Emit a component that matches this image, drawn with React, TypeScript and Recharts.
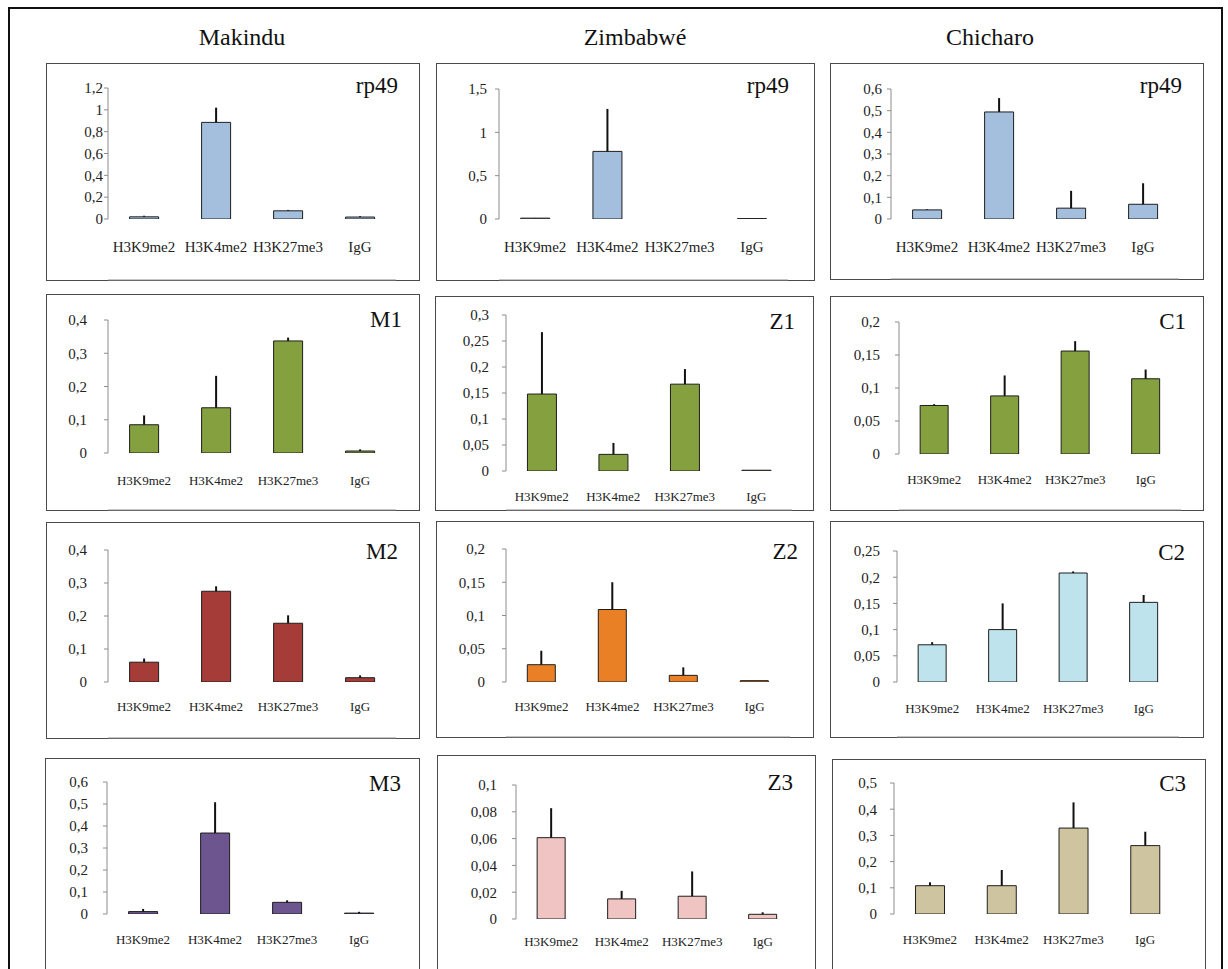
import React from "react";
import { BarChart, Bar, XAxis, YAxis, ErrorBar } from "recharts";

const serif = '"Liberation Serif", "Times New Roman", serif';

const categories = ["H3K9me2", "H3K4me2", "H3K27me3", "IgG"];
const columnTitles = ["Makindu", "Zimbabwé", "Chicharo"];

// bar heights and upper error per panel
const makinduRp49 = [0.02, 0.885, 0.075, 0.018];
const makinduRp49Err = [0.01, 0.135, 0.008, 0.008];
const zimbabweRp49 = [0.01, 0.78, 0.0, 0.005];
const zimbabweRp49Err = [0.002, 0.49, 0, 0.002];
const chicharoRp49 = [0.042, 0.494, 0.05, 0.068];
const chicharoRp49Err = [0.003, 0.064, 0.08, 0.097];

const m1 = [0.085, 0.136, 0.337, 0.006];
const m1Err = [0.028, 0.096, 0.01, 0.005];
const z1 = [0.148, 0.032, 0.167, 0.0015];
const z1Err = [0.119, 0.022, 0.029, 0];
const c1 = [0.0735, 0.088, 0.156, 0.114];
const c1Err = [0.002, 0.031, 0.015, 0.014];

const m2 = [0.06, 0.275, 0.178, 0.013];
const m2Err = [0.011, 0.015, 0.024, 0.007];
const z2 = [0.026, 0.109, 0.01, 0.002];
const z2Err = [0.021, 0.041, 0.012, 0];
const c2 = [0.071, 0.1, 0.208, 0.152];
const c2Err = [0.005, 0.05, 0.003, 0.014];

const m3 = [0.011, 0.368, 0.053, 0.004];
const m3Err = [0.012, 0.14, 0.009, 0.006];
const z3 = [0.0607, 0.015, 0.017, 0.0035];
const z3Err = [0.022, 0.006, 0.0185, 0.0015];
const c3 = [0.108, 0.108, 0.328, 0.261];
const c3Err = [0.013, 0.06, 0.098, 0.053];

// y tick labels
const ticks12 = [0, 0.2, 0.4, 0.6, 0.8, 1, 1.2];
const ticks15 = [0, 0.5, 1, 1.5];
const ticks06 = [0, 0.1, 0.2, 0.3, 0.4, 0.5, 0.6];
const ticks04 = [0, 0.1, 0.2, 0.3, 0.4];
const ticks03 = [0, 0.05, 0.1, 0.15, 0.2, 0.25, 0.3];
const ticks02 = [0, 0.05, 0.1, 0.15, 0.2];
const ticks025 = [0, 0.05, 0.1, 0.15, 0.2, 0.25];
const ticks01 = [0, 0.02, 0.04, 0.06, 0.08, 0.1];
const ticks05 = [0, 0.1, 0.2, 0.3, 0.4, 0.5];

const panels = [
  { tag: "rp49", values: makinduRp49, errors: makinduRp49Err, ticks: ticks12, fill: "#a4bfdd", cat: 15,
    box: { x: 46, y: 63, w: 374, h: 218, axisX: 108, right: 396, top: 88, zero: 219, catY: 248, gap: 4, tagR: 398, tagY: 86 } },
  { tag: "rp49", values: zimbabweRp49, errors: zimbabweRp49Err, ticks: ticks15, fill: "#a4bfdd", cat: 15,
    box: { x: 436, y: 63, w: 379, h: 218, axisX: 499, right: 788, top: 89, zero: 219, catY: 248, gap: 12, tagR: 789, tagY: 86 } },
  { tag: "rp49", values: chicharoRp49, errors: chicharoRp49Err, ticks: ticks06, fill: "#a4bfdd", cat: 15,
    box: { x: 830, y: 63, w: 374, h: 217, axisX: 891, right: 1179, top: 89, zero: 219, catY: 248, gap: 9, tagR: 1182, tagY: 86 } },

  { tag: "M1", values: m1, errors: m1Err, ticks: ticks04, fill: "#84a03f", cat: 13,
    box: { x: 46, y: 294, w: 374, h: 217, axisX: 108, right: 396, top: 320, zero: 453, catY: 482, gap: 21, tagR: 402, tagY: 320 } },
  { tag: "Z1", values: z1, errors: z1Err, ticks: ticks03, fill: "#84a03f", cat: 13,
    box: { x: 435, y: 296, w: 379, h: 215, axisX: 506, right: 792, top: 315, zero: 471, catY: 498, gap: 17, tagR: 795, tagY: 322 } },
  { tag: "C1", values: c1, errors: c1Err, ticks: ticks02, fill: "#84a03f", cat: 13,
    box: { x: 830, y: 296, w: 374, h: 215, axisX: 899, right: 1181, top: 322, zero: 454, catY: 481, gap: 19, tagR: 1186, tagY: 322 } },

  { tag: "M2", values: m2, errors: m2Err, ticks: ticks04, fill: "#a63c37", cat: 13,
    box: { x: 46, y: 522, w: 374, h: 217, axisX: 108, right: 396, top: 550, zero: 682, catY: 708, gap: 21, tagR: 398, tagY: 552 } },
  { tag: "Z2", values: z2, errors: z2Err, ticks: ticks02, fill: "#ea8025", cat: 13,
    box: { x: 436, y: 521, w: 378, h: 217, axisX: 506, right: 790, top: 549, zero: 682, catY: 708, gap: 21, tagR: 798, tagY: 552 } },
  { tag: "C2", values: c2, errors: c2Err, ticks: ticks025, fill: "#bfe3ec", cat: 13,
    box: { x: 830, y: 521, w: 374, h: 217, axisX: 897, right: 1179, top: 551, zero: 682, catY: 710, gap: 17, tagR: 1185, tagY: 553 } },

  { tag: "M3", values: m3, errors: m3Err, ticks: ticks06, fill: "#6d5690", cat: 13,
    box: { x: 45, y: 758, w: 375, h: 230, axisX: 107, right: 395, top: 782, zero: 914, catY: 941, gap: 19, tagR: 401, tagY: 784 } },
  { tag: "Z3", values: z3, errors: z3Err, ticks: ticks01, fill: "#efc4c2", cat: 13,
    box: { x: 437, y: 755, w: 379, h: 230, axisX: 516, right: 798, top: 785, zero: 919, catY: 943, gap: 19, tagR: 793, tagY: 783 } },
  { tag: "C3", values: c3, errors: c3Err, ticks: ticks05, fill: "#cec49f", cat: 13,
    box: { x: 832, y: 759, w: 374, h: 230, axisX: 894, right: 1181, top: 783, zero: 914, catY: 941, gap: 17, tagR: 1186, tagY: 784 } },
];

const fmt = (v: number) => String(v).replace(".", ",");

function Panel({ p }: { p: (typeof panels)[number] }) {
  const b = p.box;
  const data = categories.map((c, i) => ({ name: c, v: p.values[i], err: [0, p.errors[i]] }));
  const catH = b.y + b.h - b.zero - 1;
  const catMargin = Math.max(0, b.catY - 0.38 * p.cat - b.zero - 1);
  const max = p.ticks[p.ticks.length - 1];
  return (
    <div
      style={{
        position: "absolute",
        left: b.x,
        top: b.y,
        width: b.w,
        height: b.h,
        boxSizing: "border-box",
        border: "1px solid #4a4a4a",
        background: "#fff",
      }}
    >
      <div style={{ position: "absolute", left: -1, top: -1 }}>
        <BarChart
          width={b.w}
          height={b.h}
          data={data}
          margin={{ top: b.top - b.y, right: b.x + b.w - b.right, left: 0, bottom: 0 }}
          barCategoryGap="30%"
        >
          <XAxis
            xAxisId="grid"
            type="number"
            domain={[0, 4]}
            ticks={[0, 1, 2, 3, 4]}
            tick={false}
            tickSize={4}
            height={1}
            allowDataOverflow
            axisLine={{ stroke: "#8c8c8c" }}
            tickLine={{ stroke: "#8c8c8c" }}
          />
          <XAxis
            xAxisId="cat"
            dataKey="name"
            type="category"
            height={catH}
            axisLine={false}
            tickLine={false}
            tickSize={0}
            tickMargin={catMargin}
            interval={0}
            tick={{ fontSize: p.cat, fill: "#222", fontFamily: serif }}
          />
          <YAxis
            type="number"
            domain={[0, max]}
            ticks={p.ticks}
            interval={0}
            allowDataOverflow
            width={b.axisX - b.x}
            tickFormatter={fmt}
            tickSize={4}
            tickMargin={Math.max(1, b.gap - 4)}
            axisLine={{ stroke: "#8c8c8c" }}
            tickLine={{ stroke: "#8c8c8c" }}
            tick={{ fontSize: 15, fill: "#222", fontFamily: serif }}
          />
          <Bar xAxisId="cat" dataKey="v" fill={p.fill} stroke="#1e1e1e" strokeWidth={1} isAnimationActive={false}>
            <ErrorBar dataKey="err" width={0} stroke="#111" strokeWidth={2} direction="y" />
          </Bar>
        </BarChart>
      </div>
      <div
        style={{
          position: "absolute",
          right: b.x + b.w - b.tagR - 1,
          top: b.tagY - b.y - 12.7,
          fontFamily: serif,
          fontSize: 23,
          lineHeight: "23px",
          color: "#111",
          whiteSpace: "nowrap",
        }}
      >
        {p.tag}
      </div>
    </div>
  );
}

const titleX = [242, 635, 990];

export default function App() {
  return (
    <div
      style={{
        position: "absolute",
        left: 0,
        top: 0,
        width: 1228,
        height: 969,
        overflow: "hidden",
        background: "#fff",
      }}
    >
      <div
        style={{
          position: "absolute",
          left: 8,
          top: 7,
          width: 1215,
          height: 1000,
          boxSizing: "border-box",
          border: "2px solid #111",
        }}
      />
      {columnTitles.map((t, i) => (
        <div
          key={t}
          style={{
            position: "absolute",
            left: titleX[i] - 100,
            width: 200,
            top: 25,
            textAlign: "center",
            fontFamily: serif,
            fontSize: 24,
            lineHeight: "24px",
            color: "#111",
          }}
        >
          {t}
        </div>
      ))}
      {panels.map((p, i) => (
        <Panel key={i} p={p} />
      ))}
    </div>
  );
}
